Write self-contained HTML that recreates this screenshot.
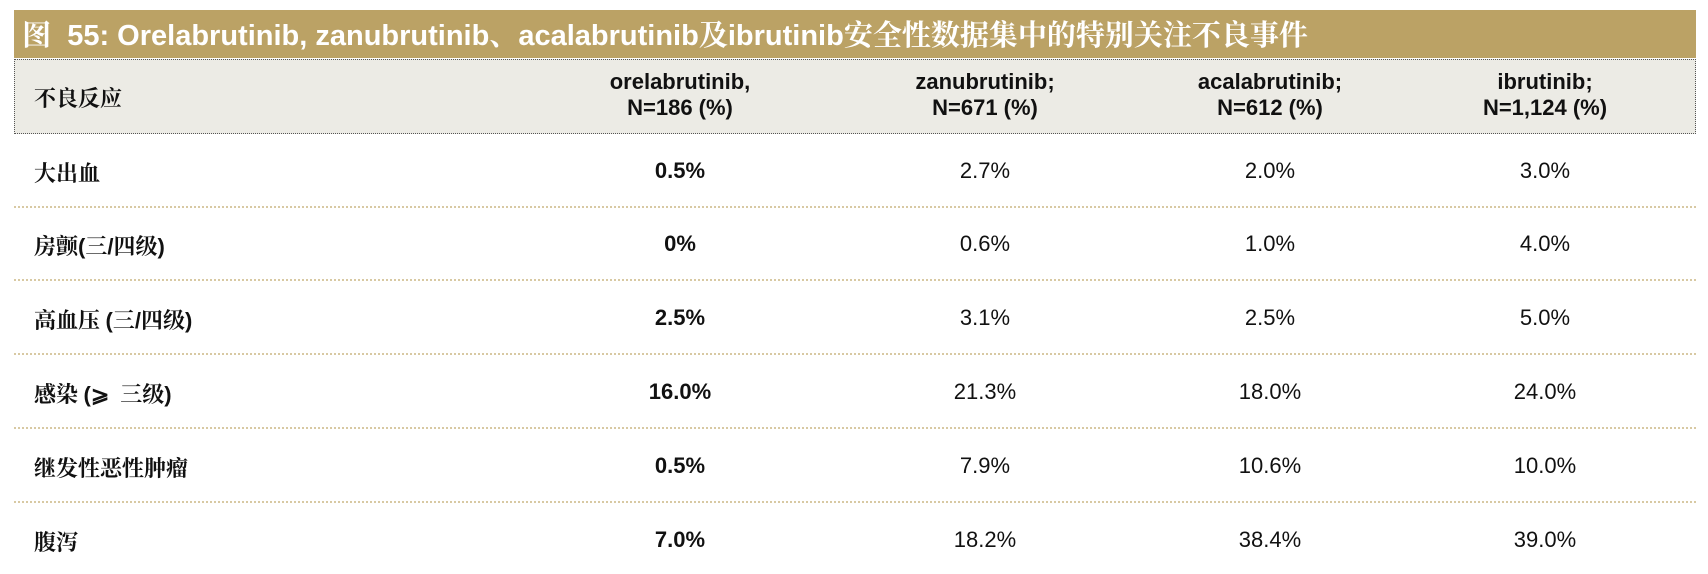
<!DOCTYPE html>
<html><head><meta charset="utf-8"><style>
body{margin:0;width:1708px;height:574px;background:#fff;overflow:hidden;font-family:"Liberation Sans","Noto Sans CJK SC",sans-serif;}
.title{position:absolute;left:14px;top:10px;width:1682px;height:48px;background:#bba265;color:#fff;font-weight:bold;font-size:29px;line-height:48px;}
.title .k{font-family:"Noto Serif CJK SC","Noto Sans CJK SC",serif;font-weight:bold;}
.hdr{position:absolute;left:14px;top:59px;width:1680px;height:73px;background:#ecebe5;border:1px dotted #555;}
.sep{position:absolute;left:14px;width:1682px;border-top:2px dotted #d8c9a3;}
.t{position:absolute;font-size:22px;color:#111;white-space:nowrap;}
.l{left:34px;font-family:"Noto Serif CJK SC","Noto Sans CJK SC",serif;font-weight:bold;}
.l b{font-family:"Liberation Sans",sans-serif;}
.c{transform:translateX(-50%);text-align:center;}
.h{font-weight:bold;line-height:26px;}
.b{font-weight:bold;}
</style></head><body>
<div class="title">&nbsp;<span class="k">图</span>&nbsp; 55: Orelabrutinib, zanubrutinib<span class="k">、</span>acalabrutinib<span class="k">及</span>ibrutinib<span class="k">安全性数据集中的特别关注不良事件</span></div>
<div class="hdr"></div>
<div class="t l" style="top:82px">不良反应</div>
<div class="t c h" style="left:680px;top:69px">orelabrutinib,<br>N=186 (%)</div>
<div class="t c h" style="left:985px;top:69px">zanubrutinib;<br>N=671 (%)</div>
<div class="t c h" style="left:1270px;top:69px">acalabrutinib;<br>N=612 (%)</div>
<div class="t c h" style="left:1545px;top:69px">ibrutinib;<br>N=1,124 (%)</div>

<div class="sep" style="top:206px"></div>
<div class="sep" style="top:279px"></div>
<div class="sep" style="top:353px"></div>
<div class="sep" style="top:427px"></div>
<div class="sep" style="top:501px"></div>

<div class="t l" style="top:157px">大出血</div>
<div class="t c b" style="left:680px;top:158px">0.5%</div><div class="t c" style="left:985px;top:158px">2.7%</div><div class="t c" style="left:1270px;top:158px">2.0%</div><div class="t c" style="left:1545px;top:158px">3.0%</div>

<div class="t l" style="top:230px">房颤<b>(</b>三<b>/</b>四级<b>)</b></div>
<div class="t c b" style="left:680px;top:231px">0%</div><div class="t c" style="left:985px;top:231px">0.6%</div><div class="t c" style="left:1270px;top:231px">1.0%</div><div class="t c" style="left:1545px;top:231px">4.0%</div>

<div class="t l" style="top:304px">高血压 <b>(</b>三<b>/</b>四级<b>)</b></div>
<div class="t c b" style="left:680px;top:305px">2.5%</div><div class="t c" style="left:985px;top:305px">3.1%</div><div class="t c" style="left:1270px;top:305px">2.5%</div><div class="t c" style="left:1545px;top:305px">5.0%</div>

<div class="t l" style="top:378px">感染 <b>(</b>⩾&nbsp; 三级<b>)</b></div>
<div class="t c b" style="left:680px;top:379px">16.0%</div><div class="t c" style="left:985px;top:379px">21.3%</div><div class="t c" style="left:1270px;top:379px">18.0%</div><div class="t c" style="left:1545px;top:379px">24.0%</div>

<div class="t l" style="top:452px">继发性恶性肿瘤</div>
<div class="t c b" style="left:680px;top:453px">0.5%</div><div class="t c" style="left:985px;top:453px">7.9%</div><div class="t c" style="left:1270px;top:453px">10.6%</div><div class="t c" style="left:1545px;top:453px">10.0%</div>

<div class="t l" style="top:526px">腹泻</div>
<div class="t c b" style="left:680px;top:527px">7.0%</div><div class="t c" style="left:985px;top:527px">18.2%</div><div class="t c" style="left:1270px;top:527px">38.4%</div><div class="t c" style="left:1545px;top:527px">39.0%</div>
</body></html>
